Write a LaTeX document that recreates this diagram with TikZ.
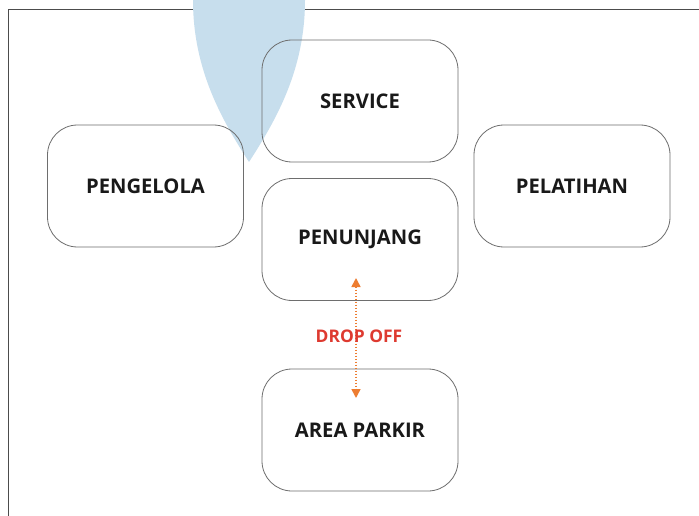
\documentclass[tikz,border=0pt]{standalone}
\usepackage{fontspec}
\setmainfont{Open Sans}
\usetikzlibrary{arrows.meta}
\definecolor{boxline}{RGB}{110,110,110}
\definecolor{dropblue}{RGB}{199,222,237}
\definecolor{arroworange}{RGB}{237,125,49}
\definecolor{dropred}{RGB}{222,58,48}
\definecolor{txt}{RGB}{25,25,25}
\tikzset{
  zone/.style={draw=boxline, line width=0.8pt, rounded corners=30pt,
    minimum width=196pt, minimum height=122pt, inner sep=0pt,
    font=\fontsize{20.2}{23}\selectfont\bfseries, text=txt},
  frameline/.style={draw=black!70, line width=0.8pt},
  dropline/.style={draw=arroworange, line width=1.6pt, dash pattern=on 1.6pt off 1.4pt,
    {Triangle[length=9pt,width=9pt]}-{Triangle[length=9pt,width=9pt]}}
}
\begin{document}
\begin{tikzpicture}[x=1pt,y=-1pt]
\useasboundingbox (0,0) rectangle (699,516);
\fill[white] (0,0) rectangle (699,516);
\draw[frameline] (8,516) -- (8,9.5) -- (699,9.5);
\fill[dropblue] (193,0) .. controls (193,70) and (222,120) .. (249,162)
  .. controls (276,120) and (305,70) .. (305,0) -- cycle;
\node[zone] (service) at (360,101) {SERVICE};
\node[zone] (pengelola) at (145.5,186) {PENGELOLA};
\node[zone] (pelatihan) at (572,186) {PELATIHAN};
\node[zone] (penunjang) at (360,239.5) {PENUNJANG};
\node[zone] (parkir) at (360,430) {AREA PARKIR};
\coordinate (atop) at (356,278);
\coordinate (abot) at (356,398);
\draw[dropline] (atop) -- (abot);
\node[text=dropred, font=\fontsize{17.4}{20}\selectfont\bfseries, inner sep=1pt] (dropoff) at (359,336) {DROP OFF};
\end{tikzpicture}
\end{document}
